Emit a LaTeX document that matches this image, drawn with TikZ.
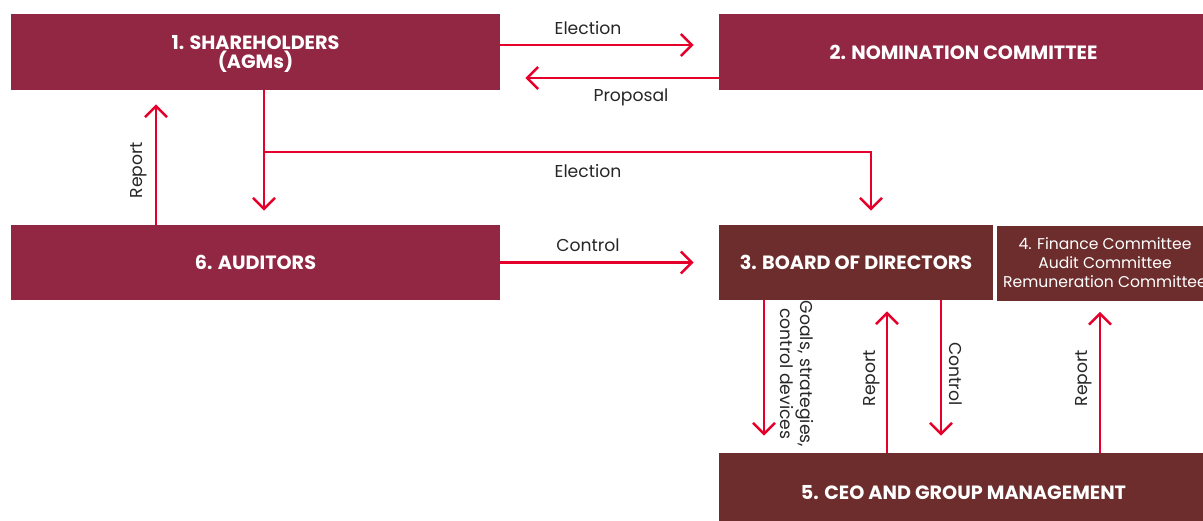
\documentclass[tikz,border=0pt]{standalone}
\usepackage{fontspec}
\setmainfont{Poppins}
\usetikzlibrary{arrows.meta,calc,positioning}

\definecolor{wine}{RGB}{146,39,67}
\definecolor{darkwine}{RGB}{108,45,44}
\definecolor{flowred}{RGB}{228,0,43}

\tikzset{
  box/.style={fill=wine,text=white,inner sep=0pt,align=center,
    minimum width=244.5pt,minimum height=38pt,
    font=\fontsize{9.6}{9.5}\selectfont\bfseries},
  subbox/.style={box,fill=darkwine},
  flow/.style={draw=flowred,line width=1.25pt,
    -{Straight Barb[length=5.5pt,width=11pt]}},
  lbl/.style={inner sep=0pt,text=black!85,align=center,
    font=\fontsize{8.6}{8.6}\selectfont}
}

\begin{document}
\begin{tikzpicture}[x=0.5pt,y=-0.5pt]
\useasboundingbox (0,0) rectangle (1203,520);

% boxes
\node[box,text depth=0pt] (share) at (255.5,52) {1. SHAREHOLDERS\\(AGMs)};
\node[box] (nomin) at (963.5,52) {2. NOMINATION COMMITTEE};
\node[box,minimum height=37.5pt] (audit) at (255.5,262.5) {6. AUDITORS};
\node[subbox,minimum width=137pt,minimum height=37.5pt] (board) at (856,262.5) {3. BOARD OF DIRECTORS};
\node[subbox,minimum width=108pt,minimum height=37.5pt,
  font=\fontsize{7.8}{9.5}\selectfont] (commit) at (1105,263)
  {4. Finance Committee\\Audit Committee\\Remuneration Committee};
\node[subbox,minimum height=40pt] (ceo) at (963.5,493) {5. CEO AND GROUP MANAGEMENT};

% shareholders <-> nomination
\draw[flow] ($(share.east)+(0,-7)$) -- ($(nomin.west)+(-25,-7)$);
\draw[flow] ($(nomin.west)+(0,26)$) -- ($(share.east)+(25,26)$);
\node[lbl] at (588,28) {Election};
\node[lbl] at (631,97) {Proposal};

% shareholders -> auditors and board
\coordinate (split) at (264,152);
\draw[flow,shorten >=7pt] (share.south -| split) -- (audit.north -| split);
\draw[flow,shorten >=7pt] (split) -| ($(board.north)+(15,0)$);
\node[lbl] at (588,171) {Election};

% auditors
\draw[flow,shorten >=7pt] ($(audit.north)+(-99.5,0)$) coordinate (rep) -- (rep |- share.south);
\node[lbl,rotate=90] at (139,170) {Report};
\draw[flow,shorten >=12.5pt] (audit.east) -- (board.west);
\node[lbl] at (588,245) {Control};

% board <-> management
\draw[flow,shorten >=8.5pt] ($(board.south)+(-92,0)$) coordinate (goal) -- (goal |- ceo.north);
\node[lbl,rotate=-90] at (797,374) {Goals, strategies,\\control devices};
\draw[flow,shorten >=5.5pt] ($(ceo.north)+(-76.5,0)$) coordinate (rep) -- (rep |- board.south);
\node[lbl,rotate=90] at (872,378) {Report};
\draw[flow,shorten >=8.5pt] ($(board.south)+(85,0)$) coordinate (ctrl) -- (ctrl |- ceo.north);
\node[lbl,rotate=-90] at (956,374) {Control};
\draw[flow,shorten >=5.5pt] ($(ceo.north)+(136.5,0)$) coordinate (rep) -- (rep |- commit.south);
\node[lbl,rotate=90] at (1084,378) {Report};
\end{tikzpicture}
\end{document}
